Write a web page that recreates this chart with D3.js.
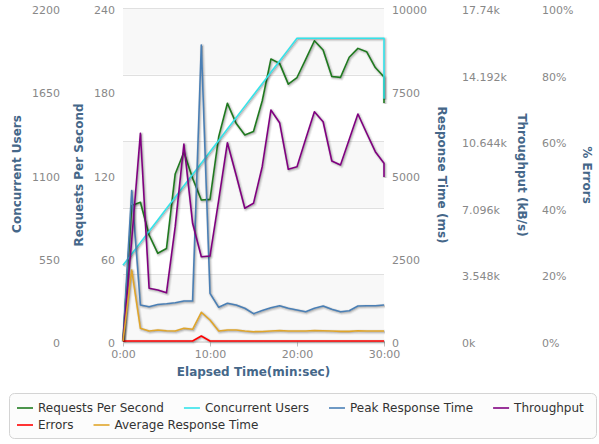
<!DOCTYPE html>
<html><head><meta charset="utf-8">
<script src="https://cdn.jsdelivr.net/npm/d3@7"></script>
<style>body{margin:0;background:#fff}svg{display:block;font-family:"DejaVu Sans",sans-serif}</style>
</head><body><svg id="c" width="599" height="444"></svg>
<script>
const minutes = [0,1,2,3,4,5,6,7,8,9,10,11,12,13,14,15,16,17,18,19,20,21,22,23,24,25,26,27,28,29,30,30];
const concurrentUsers = [500,575,650,725,800,875,950,1025,1100,1175,1250,1325,1400,1475,1550,1625,1700,1775,1850,1925,2000,2000,2000,2000,2000,2000,2000,2000,2000,2000,2000,1600];
const requestsPerSecond = [0,97.7,100,76.4,63.2,66.7,120.4,136,117.3,101.6,102.1,147.2,171.3,156.9,148.5,151,173,203.2,200.1,185.1,189.9,203,216.4,209.7,190.6,190,204.5,210.9,208.5,197.1,190.3,171.5];
const peakResponseTime = [0,4520,1081,1030,1096,1120,1150,1201,1201,8889,1432,1012,1132,1081,982,820,916,1000,1060,982,931,880,982,1051,952,880,910,1051,1060,1060,1081,1081];
const throughput = [0,5380,11064,2807,2717,2573,6089,10494,6270,4491,4528,7511,10564,8843,7069,7335,9285,12305,11629,9146,9285,10761,12215,11682,9589,9376,10734,12092,11080,10084,9466,8736];
const errors = [0,0,0,0,0,0,0,0,0,1.5,0,0,0,0,0,0,0,0,0,0,0,0,0,0,0,0,0,0,0,0,0,0];
const averageResponseTime = [0,2132,381,300,330,310,300,381,351,862,631,300,330,330,300,280,285,300,315,300,300,300,315,310,300,290,290,310,300,300,300,300];

const timeTicks = [0,10,20,30];
const timeTickLabels = ["0:00","10:00","20:00","30:00"];
const usersTicks = [0,550,1100,1650,2200];
const rpsTicks = [0,60,120,180,240];
const rtTicks = [0,2500,5000,7500,10000];
const tpTicks = [0,3548,7096,10644,14192,17740];
const tpTickLabels = ["0k","3.548k","7.096k","10.644k","14.192k","17.74k"];
const errTicks = [0,20,40,60,80,100];
const errTickLabels = ["0%","20%","40%","60%","80%","100%"];

const svg = d3.select("#c");
const L = 123, R = 384, T = 8, B = 341;
const x = d3.scaleLinear().domain([0,30]).range([L,R]);
const yUsers = d3.scaleLinear().domain([0,2200]).range([B,T]);
const yRps = d3.scaleLinear().domain([0,240]).range([B,T]);
const yRt = d3.scaleLinear().domain([0,10000]).range([B,T]);
const yTp = d3.scaleLinear().domain([0,17740]).range([B,T]);
const yErr = d3.scaleLinear().domain([0,100]).range([B,T]);

// alternate bands + grid (from throughput axis)
const bands = svg.append("g");
for (let i = 0; i < tpTicks.length - 1; i++) {
  if (i % 2 === 0) {
    bands.append("rect").attr("x", L).attr("width", R - L)
      .attr("y", yTp(tpTicks[i+1])).attr("height", yTp(tpTicks[i]) - yTp(tpTicks[i+1]))
      .attr("fill", "#f8f8f8");
  }
}
svg.append("g").selectAll("line").data(tpTicks.slice(1)).join("line")
  .attr("x1", L).attr("x2", R)
  .attr("y1", d => Math.round(yTp(d)) + 0.5).attr("y2", d => Math.round(yTp(d)) + 0.5)
  .attr("stroke", "#e0e0e0").attr("stroke-width", 1);

// x axis
const xAxis = d3.axisBottom(x).tickValues(timeTicks).tickFormat((d,i) => timeTickLabels[i]).tickSize(5).tickSizeOuter(0);
const gx = svg.append("g").attr("transform", `translate(0,${B + 0.5})`).call(xAxis);
gx.select(".domain").attr("stroke", "#c0c0c0");
gx.selectAll(".tick line").attr("stroke", "#c0c0c0");
gx.selectAll(".tick text").attr("fill", "#888").attr("font-size", 11).attr("font-family", "DejaVu Sans").attr("dy", "0.8em");

function yAxisLabels(scale, ticks, labels, xPos, anchor) {
  const ax = (anchor === "end" ? d3.axisLeft(scale) : d3.axisRight(scale))
    .tickValues(ticks).tickFormat((d,i) => labels ? labels[i] : d).tickSize(0).tickPadding(0);
  const g = svg.append("g").attr("transform", `translate(${xPos},2)`).call(ax);
  g.select(".domain").remove();
  g.selectAll(".tick text").attr("fill", "#888").attr("font-size", 11).attr("font-family", "DejaVu Sans");
}
yAxisLabels(yUsers, usersTicks, null, 60, "end");
yAxisLabels(yRps, rpsTicks, null, 115, "end");
yAxisLabels(yRt, rtTicks, null, 392, "start");
yAxisLabels(yTp, tpTicks, tpTickLabels, 462, "start");
yAxisLabels(yErr, errTicks, errTickLabels, 542, "start");

const titleColor = "#456789";
function axisTitle(text, cx, cy, rot) {
  svg.append("text").attr("transform", `translate(${cx},${cy}) rotate(${rot})`)
    .attr("text-anchor", "middle").attr("dy", "0.35em")
    .attr("font-size", 12).attr("font-weight", "bold").attr("fill", titleColor).text(text);
}
axisTitle("Concurrent Users", 17, 174, -90);
axisTitle("Requests Per Second", 79, 175, -90);
axisTitle("Response Time (ms)", 442, 175, 90);
axisTitle("Throughput (kB/s)", 522, 175, 90);
axisTitle("% Errors", 587, 175, 90);
svg.append("text").attr("x", (L + R) / 2).attr("y", 376).attr("text-anchor", "middle")
  .attr("font-size", 12).attr("font-weight", "bold").attr("fill", titleColor).text("Elapsed Time(min:sec)");

// series
const series = [
  {name: "Requests Per Second", data: requestsPerSecond, y: yRps, color: "#1f7a1f"},
  {name: "Concurrent Users", data: concurrentUsers, y: yUsers, color: "#33e3ea"},
  {name: "Peak Response Time", data: peakResponseTime, y: yRt, color: "#4a7fb5"},
  {name: "Throughput", data: throughput, y: yTp, color: "#800080"},
  {name: "Errors", data: errors, y: yErr, color: "#ff0000"},
  {name: "Average Response Time", data: averageResponseTime, y: yRt, color: "#e0a52a"}
];
const plot = svg.append("g");
series.forEach(s => {
  const line = d3.line().x((d,i) => x(minutes[i])).y(d => s.y(d));
  const sh = plot.append("g").attr("transform", "translate(1,1)");
  [[5,0.05],[3,0.1],[1,0.15]].forEach(([w,o]) => {
    sh.append("path").attr("d", line(s.data)).attr("fill", "none")
      .attr("stroke", "#000").attr("stroke-opacity", o).attr("stroke-width", w).attr("stroke-linejoin", "round");
  });
  plot.append("path").attr("d", line(s.data)).attr("fill", "none")
    .attr("stroke", s.color).attr("stroke-width", 1.6).attr("stroke-linejoin", "round");
});

// legend
svg.append("rect").attr("x", 9.5).attr("y", 393.5).attr("width", 587).attr("height", 45).attr("rx", 5)
  .attr("fill", "#fcfcfc").attr("stroke", "#d4d4d4");
const rows = [[0,1,2,3],[4,5]];
const rowY = [408, 425];
rows.forEach((row, ri) => {
  let cx = 17;
  row.forEach(si => {
    const s = series[si];
    svg.append("line").attr("x1", cx).attr("x2", cx + 16).attr("y1", rowY[ri]).attr("y2", rowY[ri])
      .attr("stroke", s.color).attr("stroke-width", 1.6);
    const t = svg.append("text").attr("x", cx + 21).attr("y", rowY[ri]).attr("dy", "0.35em")
      .attr("font-size", 12).attr("fill", "#333").text(s.name);
    cx += 21 + t.node().getComputedTextLength() + 20;
  });
});
</script></body></html>
